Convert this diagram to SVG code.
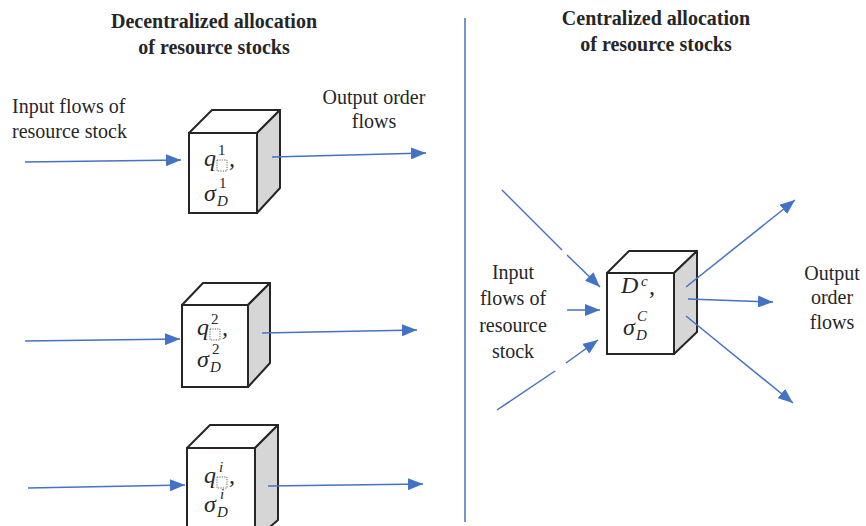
<svg xmlns="http://www.w3.org/2000/svg" width="866" height="526" viewBox="0 0 866 526">
<defs>
<style>
.t{font-family:"Liberation Serif","Times New Roman",serif;font-size:20px;fill:#262626}
.b{font-weight:bold}
.m{font-family:"Liberation Serif","Times New Roman",serif;font-style:italic;font-size:24px;fill:#262626}
.s{font-family:"Liberation Serif","Times New Roman",serif;font-size:15px;fill:#262626}
.si{font-family:"Liberation Serif","Times New Roman",serif;font-style:italic;font-size:15px;fill:#262626}
.front{fill:#ffffff;stroke:#262626;stroke-width:2}
.top{fill:#ffffff;stroke:#262626;stroke-width:2;stroke-linejoin:round}
.side{fill:#d6d6d6;stroke:#262626;stroke-width:2;stroke-linejoin:round}
.box{fill:none;stroke:#555;stroke-width:0.9;stroke-dasharray:1.2 1.2}
.a{stroke:#4472C4;stroke-width:1.5;fill:none}
.ah{marker-end:url(#arr)}
</style>
<marker id="arr" markerUnits="userSpaceOnUse" markerWidth="16" markerHeight="12" refX="15" refY="6" orient="auto">
<path d="M0,0 L15,6 L0,12 z" fill="#4472C4"/>
</marker>
</defs>
<rect width="866" height="526" fill="#ffffff"/>

<g id="titles">
<text class="t b" x="214" y="28" text-anchor="middle">Decentralized allocation</text>
<text class="t b" x="214" y="54" text-anchor="middle">of resource stocks</text>
<text class="t b" x="656" y="25" text-anchor="middle">Centralized allocation</text>
<text class="t b" x="656" y="51" text-anchor="middle">of resource stocks</text>
</g>

<g id="divider">
<line x1="465" y1="18" x2="465" y2="522" stroke="#4472C4" stroke-width="1.5"/>
</g>

<g id="labels">
<text class="t" x="12" y="113">Input flows of</text>
<text class="t" x="12" y="138">resource stock</text>
<text class="t" x="374" y="104" text-anchor="middle">Output order</text>
<text class="t" x="374" y="128" text-anchor="middle">flows</text>
<text class="t" x="513" y="279" text-anchor="middle">Input</text>
<text class="t" x="513" y="305" text-anchor="middle">flows of</text>
<text class="t" x="513" y="332" text-anchor="middle">resource</text>
<text class="t" x="513" y="358" text-anchor="middle">stock</text>
<text class="t" x="832" y="280" text-anchor="middle">Output</text>
<text class="t" x="832" y="304" text-anchor="middle">order</text>
<text class="t" x="832" y="329" text-anchor="middle">flows</text>
</g>

<g id="cube1">
<polygon class="top" points="189,133 212,110 280,110 257,133"/>
<polygon class="side" points="257,133 280,110 280,188 257,213"/>
<rect class="front" x="189" y="133" width="68" height="80"/>
<g transform="translate(204,166)">
<text class="m" x="0" y="0">q</text>
<text class="s" x="14" y="-11">1</text>
<rect class="box" x="13" y="-6" width="10" height="11"/>
<text class="m" x="25" y="0">,</text>
</g>
<g transform="translate(204,201)">
<text class="m" x="0" y="0">σ</text>
<text class="s" x="15" y="-13">1</text>
<text class="si" x="13" y="5">D</text>
</g>
</g>

<g id="cube2">
<polygon class="top" points="182,305 203,283 270,283 248,305"/>
<polygon class="side" points="248,305 270,283 270,363 248,387"/>
<rect class="front" x="182" y="305" width="66" height="82"/>
<g transform="translate(197,335)">
<text class="m" x="0" y="0">q</text>
<text class="s" x="14" y="-11">2</text>
<rect class="box" x="13" y="-6" width="10" height="11"/>
<text class="m" x="25" y="0">,</text>
</g>
<g transform="translate(197,367)">
<text class="m" x="0" y="0">σ</text>
<text class="s" x="15" y="-13">2</text>
<text class="si" x="13" y="5">D</text>
</g>
</g>

<g id="cube3">
<polygon class="top" points="187,448 210,425 278,425 255,448"/>
<polygon class="side" points="255,448 278,425 278,520 255,540"/>
<rect class="front" x="187" y="448" width="68" height="92"/>
<g transform="translate(204,483)">
<text class="m" x="0" y="0">q</text>
<text class="si" x="15" y="-11">i</text>
<rect class="box" x="13" y="-6" width="10" height="11"/>
<text class="m" x="25" y="0">,</text>
</g>
<g transform="translate(204,512)">
<text class="m" x="0" y="0">σ</text>
<text class="si" x="16" y="-13">i</text>
<text class="si" x="13" y="5">D</text>
</g>
</g>

<g id="cubeC">
<polygon class="top" points="607,273 629,251 697,251 674,273"/>
<polygon class="side" points="674,273 697,251 697,332 674,354"/>
<rect class="front" x="607" y="273" width="67" height="81"/>
<text class="m" x="621" y="293">D</text>
<text class="si" x="641" y="286">c</text>
<text class="m" x="649" y="294">,</text>
<text class="m" x="623" y="335">σ</text>
<text class="si" x="637" y="321">C</text>
<text class="si" x="636" y="340">D</text>
</g>

<g id="connectors">
<line class="a ah" x1="25" y1="162" x2="181" y2="160"/>
<line class="a ah" x1="272" y1="157" x2="426" y2="153"/>
<line class="a ah" x1="25" y1="341" x2="180" y2="339"/>
<line class="a ah" x1="262" y1="333" x2="417" y2="330"/>
<line class="a ah" x1="28" y1="488" x2="185" y2="485"/>
<line class="a ah" x1="268" y1="486" x2="423" y2="484"/>
<line class="a" x1="502" y1="190" x2="562" y2="250"/>
<line class="a ah" x1="567" y1="255" x2="600" y2="287"/>
<line class="a ah" x1="567" y1="310" x2="600" y2="310"/>
<line class="a" x1="497" y1="410" x2="555" y2="371"/>
<line class="a ah" x1="566" y1="363" x2="598" y2="340"/>
<line class="a ah" x1="686" y1="287" x2="795" y2="200"/>
<line class="a ah" x1="688" y1="299" x2="773" y2="302"/>
<line class="a ah" x1="686" y1="316" x2="793" y2="403"/>
</g>
</svg>
